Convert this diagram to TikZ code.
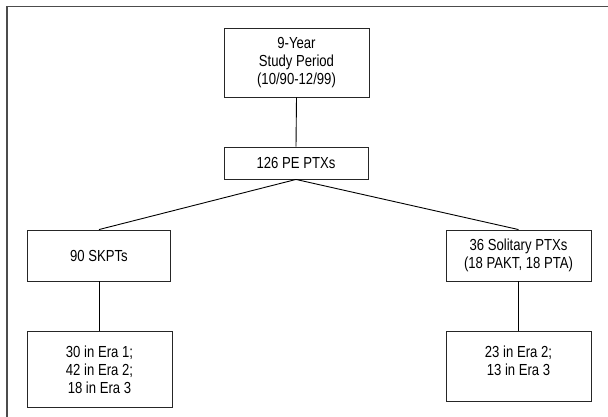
\documentclass[tikz,border=0pt]{standalone}
\usepackage{fontspec}
\setmainfont{Liberation Sans}[FakeStretch=0.82]
\begin{document}
\begin{tikzpicture}[x=1pt,y=-1pt,
  box/.style={draw=black!85,line width=0.9pt,inner sep=0pt,fill=white},
  conn/.style={draw=black,line width=0.9pt},
  frame/.style={draw=black!70,line width=1.6pt}]
\useasboundingbox (0,0) rectangle (608,417);
\fontsize{16}{18}\selectfont
% outer frame (only top and left edges visible)
\coordinate (fr1) at (7,417);
\coordinate (fr2) at (7,6.5);
\coordinate (fr3) at (608,6.5);
\draw[frame] (fr1) -- (fr2) -- (fr3);
% boxes
\node[box] (study) at (296.5,62.5) {\parbox[c][69pt][c]{145pt}{\centering 9-Year\\Study Period\\(10/90-12/99)}};
\node[box] (pe) at (296,163) {\parbox[c][32pt][c]{144pt}{\centering 126 PE PTXs}};
\node[box] (skpt) at (99,255.5) {\parbox[c][51pt][c]{143pt}{\centering 90 SKPTs}};
\node[box] (sol) at (518.5,255.5) {\parbox[c][51pt][c]{145pt}{\centering 36 Solitary PTXs\\(18 PAKT, 18 PTA)}};
\node[box] (skera) at (99.5,369) {\parbox[c][76pt][t]{145pt}{\centering\vspace*{15pt}30 in Era 1;\\42 in Era 2;\\18 in Era 3}};
\node[box] (solera) at (518.5,366) {\parbox[c][70pt][t]{145pt}{\centering\vspace*{15pt}23 in Era 2;\\13 in Era 3}};
% connectors
\draw[conn] (study.south) -- (pe.north);
\draw[conn] (pe.south) -- (skpt.north);
\draw[conn] (pe.south) -- (sol.north);
\draw[conn] (skpt.south) -- (skera.north -| skpt.south);
\draw[conn] (sol.south) -- (solera.north -| sol.south);
\end{tikzpicture}
\end{document}
